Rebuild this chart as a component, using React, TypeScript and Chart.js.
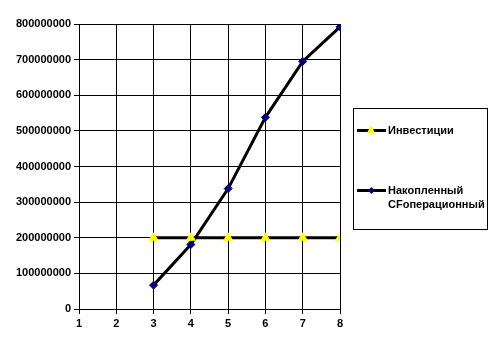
import React, { useEffect, useRef } from "react";
import { Chart, registerables } from "chart.js";

Chart.register(...registerables);

const xTicks = [1, 2, 3, 4, 5, 6, 7, 8];
const periods = [3, 4, 5, 6, 7, 8];
const investments = [200000000, 200000000, 200000000, 200000000, 200000000, 200000000];
const cumulativeCF = [67000000, 181000000, 338000000, 538000000, 695000000, 792000000];
const seriesNames = ["Инвестиции", "Накопленный CFоперационный"];

const FONT = "'Liberation Sans', Arial, sans-serif";

export default function App() {
  const ref = useRef<HTMLCanvasElement | null>(null);

  useEffect(() => {
    document.body.style.margin = "0";
    const ctx = ref.current!.getContext("2d")!;
    const chart = new Chart(ctx, {
      type: "line",
      data: {
        datasets: [
          {
            label: seriesNames[0],
            data: periods.map((p, i) => ({ x: p, y: investments[i] })),
            borderColor: "#000",
            borderWidth: 3,
            pointStyle: "triangle",
            pointRadius: 5,
            pointBackgroundColor: "#FFFF00",
            pointBorderColor: "#FFFF00",
            pointBorderWidth: 1,
            tension: 0,
          },
          {
            label: seriesNames[1],
            data: periods.map((p, i) => ({ x: p, y: cumulativeCF[i] })),
            borderColor: "#000",
            borderWidth: 3,
            pointStyle: "rectRot",
            pointRadius: 4,
            pointBackgroundColor: "#000080",
            pointBorderColor: "#000080",
            pointBorderWidth: 1,
            tension: 0,
          },
        ],
      },
      options: {
        animation: false,
        responsive: false,
        layout: { padding: { left: 0, top: 24, right: 161, bottom: 0 } },
        plugins: { legend: { display: false }, tooltip: { enabled: false } },
        scales: {
          x: {
            type: "linear",
            min: xTicks[0],
            max: xTicks[xTicks.length - 1],
            afterBuildTicks: (s: any) => {
              s.ticks = xTicks.map((v) => ({ value: v }));
            },
            afterFit: (s: any) => {
              s.height = 30;
            },
            grid: { color: "#000", lineWidth: 1, tickLength: 5, drawTicks: true },
            border: { color: "#000", width: 1 },
            ticks: {
              color: "#000",
              font: { family: FONT, size: 11, weight: "bold" },
              padding: 3,
              callback: (v: any) => String(v),
            },
          },
          y: {
            min: 0,
            max: 800000000,
            afterFit: (s: any) => {
              s.width = 79;
            },
            grid: { color: "#000", lineWidth: 1, tickLength: 5, drawTicks: true },
            border: { color: "#000", width: 1 },
            ticks: {
              stepSize: 100000000,
              color: "#000",
              font: { family: FONT, size: 11, weight: "bold" },
              padding: 3,
              callback: (v: any) => String(v),
            },
          },
        },
      },
    });
    return () => chart.destroy();
  }, []);

  const lineSample = (marker: React.ReactNode) => (
    <div style={{ position: "relative", width: 29, height: 10, marginRight: 2 }}>
      <div style={{ position: "absolute", left: 0, top: 4, width: 29, height: 3, background: "#000" }} />
      {marker}
    </div>
  );

  return (
    <div style={{ position: "relative", width: 501, height: 339, background: "#fff" }}>
      <canvas ref={ref} width={501} height={339} style={{ display: "block" }} />
      <div
        style={{
          position: "absolute",
          left: 353,
          top: 108,
          width: 135,
          height: 122,
          border: "1.5px solid #000",
          boxSizing: "border-box",
          fontFamily: FONT,
          fontSize: 11,
          fontWeight: "bold",
          color: "#000",
        }}
      >
        <div style={{ position: "absolute", left: 3, top: 15, display: "flex", alignItems: "center" }}>
          {lineSample(
            <div
              style={{
                position: "absolute",
                left: 10,
                top: 0,
                width: 0,
                height: 0,
                borderLeft: "4px solid transparent",
                borderRight: "4px solid transparent",
                borderBottom: "8px solid #FFFF00",
              }}
            />
          )}
          <span>{seriesNames[0]}</span>
        </div>
        <div style={{ position: "absolute", left: 3, top: 76, display: "flex", alignItems: "flex-start" }}>
          {lineSample(
            <div
              style={{
                position: "absolute",
                left: 12,
                top: 3,
                width: 5,
                height: 5,
                background: "#000080",
                transform: "rotate(45deg)",
              }}
            />
          )}
          <span style={{ lineHeight: "14px", marginTop: -2 }}>
            Накопленный
            <br />
            CFоперационный
          </span>
        </div>
      </div>
    </div>
  );
}
